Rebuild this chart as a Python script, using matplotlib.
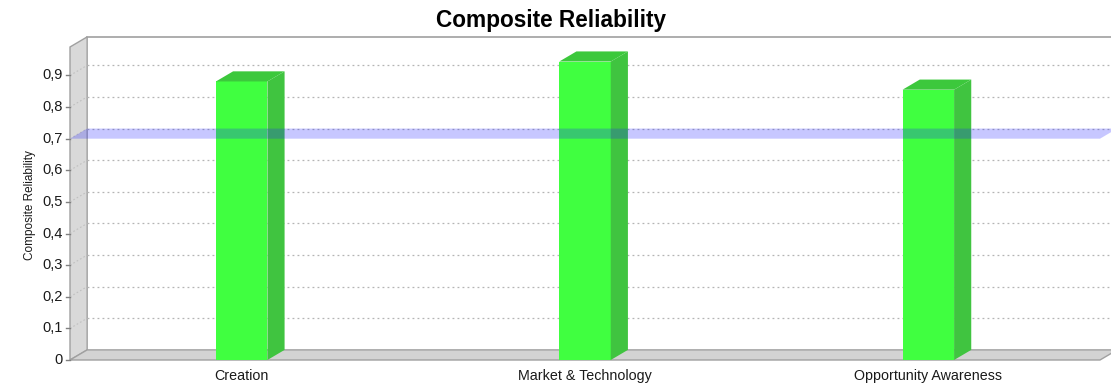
import matplotlib
matplotlib.use("Agg")
import matplotlib.pyplot as plt
from matplotlib.patches import Polygon, Rectangle

plt.rcParams['font.family'] = ['Liberation Sans', 'DejaVu Sans']

# data
categories = ['Creation', 'Market & Technology', 'Opportunity Awareness']
reliability = [0.881, 0.944, 0.855]
threshold = 0.7
yticks = [0, 0.1, 0.2, 0.3, 0.4, 0.5, 0.6, 0.7, 0.8, 0.9]

# 3d look
dx, dy = 0.05, 0.032
x0, x1 = -0.5, 2.5
ymax = 0.99
bw = 0.15

fig = plt.figure(figsize=(11.11, 3.85), dpi=100)
ax = fig.add_axes([70 / 1111, 25 / 385, 1030 / 1111, 313 / 385])
ax.set_xlim(x0, x1)
ax.set_ylim(0, ymax)
for s in ax.spines.values():
    s.set_visible(False)
ax.set_xticks([])
ax.set_yticks([])

# walls
ax.add_patch(Polygon([(x0, 0), (x0, ymax), (x0 + dx, ymax + dy), (x0 + dx, dy)],
                     closed=True, fc='#d9d9d9', ec='#a0a0a0', lw=1, clip_on=False, zorder=1))
ax.add_patch(Polygon([(x0, 0), (x1, 0), (x1 + dx, dy), (x0 + dx, dy)],
                     closed=True, fc='#d3d3d3', ec='#a0a0a0', lw=1, clip_on=False, zorder=1))
ax.plot([x0 + dx, x1 + dx], [ymax + dy, ymax + dy], color='#a0a0a0', lw=1.2,
        clip_on=False, zorder=1)

# grid
for v in yticks[1:]:
    ax.plot([x0 + dx, x1 + dx], [v + dy, v + dy], color='#b4b4b4', lw=0.9,
            ls=(0, (1.5, 2.5)), clip_on=False, zorder=2)
    ax.plot([x0, x0 + dx], [v, v + dy], color='#c0c0c0', lw=0.8,
            ls=(0, (1.5, 2)), clip_on=False, zorder=2)

# ticks on front edge
for v in yticks:
    ax.plot([x0 - 0.012, x0], [v, v], color='#808080', lw=1, clip_on=False)
    lab = '0' if v == 0 else ('%.1f' % v).replace('.', ',')
    ax.text(x0 - 0.022, v, lab, ha='right', va='center', fontsize=10.5, color='#1a1a1a')

# bars
for i, v in enumerate(reliability):
    l, r = i - bw / 2, i + bw / 2
    ax.add_patch(Rectangle((l, 0), bw, v, fc='#40ff40', ec='none', zorder=3))
    ax.add_patch(Polygon([(r, 0), (r + dx, dy), (r + dx, v + dy), (r, v)],
                         closed=True, fc='#40c440', ec='none', zorder=3))
    ax.add_patch(Polygon([(l, v), (r, v), (r + dx, v + dy), (l + dx, v + dy)],
                         closed=True, fc='#3cc83c', ec='none', zorder=3))
    ax.text(i, -0.03, categories[i], ha='center', va='top', fontsize=10.3, color='#1a1a1a')

# threshold strip
ax.add_patch(Polygon([(x0, threshold), (x1, threshold), (x1 + dx, threshold + dy),
                      (x0 + dx, threshold + dy)], closed=True,
                     fc=(35 / 255, 35 / 255, 1.0, 0.25), ec='none', clip_on=False, zorder=4))

fig.text(30 / 1111, 1 - 205 / 385, 'Composite Reliability', rotation=90,
         ha='center', va='center', fontsize=8.5, color='#1a1a1a')
fig.text(551 / 1111, 1 - 20 / 385, 'Composite Reliability', ha='center', va='center',
         fontsize=16.3, fontweight='bold', color='black')

fig.savefig('out.png', dpi=100)
